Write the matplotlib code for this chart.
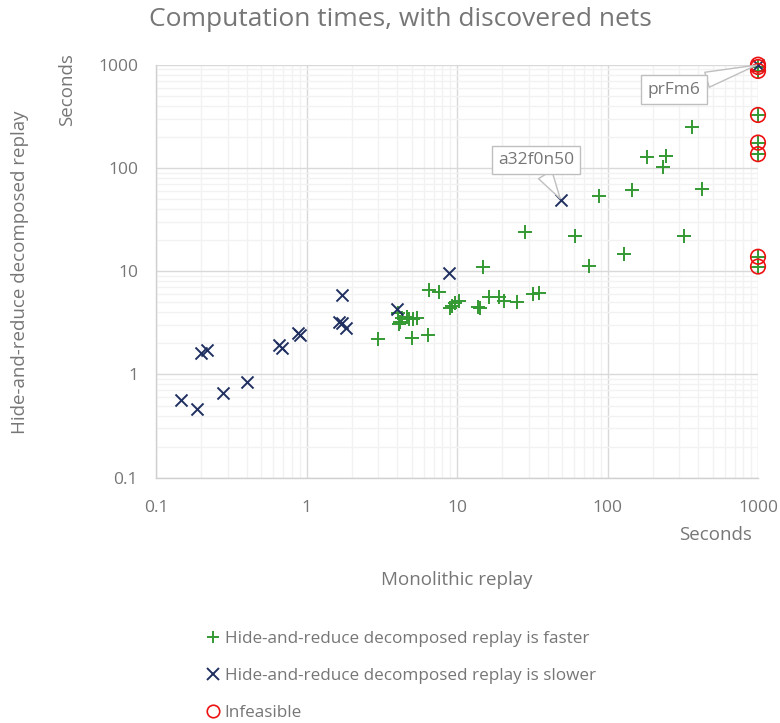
import matplotlib
matplotlib.use("Agg")
import matplotlib.pyplot as plt
from matplotlib.lines import Line2D

plt.rcParams['font.family'] = ['Open Sans', 'DejaVu Sans']

# Hide-and-reduce decomposed replay is faster (green +)
faster_x = [2.97, 4.03, 4.09, 4.17, 4.31, 4.65, 4.82, 5.07, 5.42, 4.99, 6.45, 6.55, 7.63,
            9.0, 9.3, 9.7, 10.3, 13.7, 14.2, 14.8, 16.4, 18.9, 20.4, 25.0, 31.8, 35.2,
            28.4, 61.1, 74.8, 88.3, 129, 145, 182, 232, 245, 320, 362, 422,
            1000, 1000, 1000, 1000, 1000, 1000, 1000]
faster_y = [2.19, 3.9, 3.08, 3.24, 3.50, 3.63, 3.44, 3.44, 3.55, 2.24, 2.41, 6.58, 6.24,
            4.40, 4.60, 4.90, 5.20, 4.47, 4.37, 10.9, 5.66, 5.66, 5.18, 5.07, 6.0, 6.1,
            24.1, 22.1, 11.3, 53.5, 14.7, 61.0, 127, 103, 130, 22.1, 251, 62.5,
            950, 870, 326, 176, 136, 13.8, 11.1]

# Hide-and-reduce decomposed replay is slower (navy x)
slower_x = [0.147, 0.187, 0.28, 0.40, 0.199, 0.217, 0.653, 0.684, 0.883, 0.905,
            1.71, 1.65, 1.72, 1.83, 3.99, 8.80, 49.1, 1000]
slower_y = [0.565, 0.462, 0.665, 0.85, 1.62, 1.73, 1.91, 1.82, 2.50, 2.39,
            5.88, 3.24, 3.13, 2.80, 4.30, 9.67, 49.0, 1000]

# Infeasible (red circles)
infeas_x = [1000, 1000, 1000, 1000, 1000, 1000, 1000, 1000]
infeas_y = [1000, 950, 870, 326, 176, 136, 13.8, 11.1]

tick_vals = [0.1, 1, 10, 100, 1000]
tick_labels = ["0.1", "1", "10", "100", "1000"]

labels = ["Hide-and-reduce decomposed replay is faster",
          "Hide-and-reduce decomposed replay is slower",
          "Infeasible"]

GREEN = "#339933"
NAVY = "#1f2f5f"
RED = "#ee1111"
TXT = "#767676"

fig = plt.figure(figsize=(7.8, 7.23), dpi=100)
ax = fig.add_axes([156 / 780, 1 - 477.7 / 723, (758 - 156) / 780, (477.7 - 64.7) / 723])
ax.set_xscale('log')
ax.set_yscale('log')
ax.set_xlim(0.1, 1000)
ax.set_ylim(0.1, 1000)

ax.grid(True, which='major', color='#d9d9d9', linewidth=1.0, zorder=0)
ax.grid(True, which='minor', color='#f2f2f2', linewidth=1.0, zorder=0)
ax.set_axisbelow(True)
for s in ['top', 'right']:
    ax.spines[s].set_visible(False)
for s in ['left', 'bottom']:
    ax.spines[s].set_color('#d0d0d0')
    ax.spines[s].set_linewidth(1.0)

ax.tick_params(which='both', length=0, labelsize=12.5, colors=TXT)
ax.tick_params(axis='x', pad=16)
ax.tick_params(axis='y', pad=13)
ax.set_xticks(tick_vals)
ax.set_xticklabels(tick_labels)
ax.set_yticks(tick_vals)
ax.set_yticklabels(tick_labels)

ax.scatter(faster_x, faster_y, marker='+', s=90, color=GREEN, linewidths=1.4, zorder=3, clip_on=False)
ax.scatter(slower_x, slower_y, marker='x', s=75, color=NAVY, linewidths=1.4, zorder=4, clip_on=False)
ax.scatter(infeas_x, infeas_y, marker='o', s=110, facecolors='none', edgecolors=RED,
           linewidths=1.2, zorder=5, clip_on=False)

# callouts
for txt, pt, pos in [("a32f0n50", (49.1, 49.0), (536, 723 - 160)),
                     ("prFm6", (1000, 1000), (674, 723 - 89.5))]:
    ax.annotate(txt, xy=pt, xycoords='data', xytext=pos, textcoords='figure pixels',
                ha='center', va='center', fontsize=12.5, color=TXT,
                bbox=dict(boxstyle='square,pad=0.35', fc='white', ec='#bfbfbf', lw=1.0),
                arrowprops=dict(arrowstyle='wedge,tail_width=0.9', fc='white', ec='#bfbfbf',
                                lw=1.0, shrinkA=0, shrinkB=1),
                zorder=6)

fig.text(400 / 780, 1 - 20 / 723, "Computation times, with discovered nets",
         ha='center', va='center', fontsize=19, color=TXT)
fig.text(67 / 780, 1 - 90 / 723, "Seconds", rotation=90, ha='center', va='center',
         fontsize=13.5, color=TXT)
fig.text(20 / 780, 1 - 272 / 723, "Hide-and-reduce decomposed replay", rotation=90,
         ha='center', va='center', fontsize=13.5, color=TXT)
fig.text(716 / 780, 1 - 535 / 723, "Seconds", ha='center', va='center', fontsize=13.5, color=TXT)
fig.text(457 / 780, 1 - 580 / 723, "Monolithic replay", ha='center', va='center',
         fontsize=13.5, color=TXT)

handles = [Line2D([], [], marker='+', color=GREEN, ls='none', markersize=9, mew=1.4),
           Line2D([], [], marker='x', color=NAVY, ls='none', markersize=9, mew=1.4),
           Line2D([], [], marker='o', color=RED, mfc='none', ls='none', markersize=9, mew=1.2)]
leg = fig.legend(handles, labels, loc='upper left', bbox_to_anchor=(199 / 780, 1 - 624 / 723),
                 frameon=False, fontsize=12.3, handlelength=0.8, handletextpad=0.3,
                 labelspacing=1.22, borderaxespad=0)
for t in leg.get_texts():
    t.set_color(TXT)

fig.savefig("out.png", dpi=100)
